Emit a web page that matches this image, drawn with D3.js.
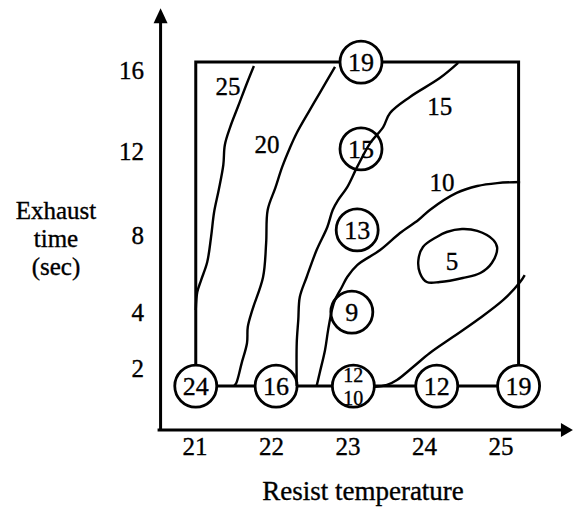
<!DOCTYPE html>
<html>
<head>
<meta charset="utf-8">
<script src="https://cdn.jsdelivr.net/npm/d3@7"></script>
<style>
  body { margin: 0; background: #fff; }
  svg text { font-family: "Liberation Serif", "Times New Roman", serif; fill: #000; stroke: #000; stroke-width: 0.35px; }
</style>
</head>
<body>
<div id="container"></div>
<script>
//-----------------------------DATA-----------------------------//
// x = resist temperature, y = exhaust time (sec)
var xTicks = [21, 22, 23, 24, 25];
var yTicks = [2, 4, 8, 12, 16];

// experiment box and axes extent
var boxTemp = [21.01, 25.23];
var boxTime = [1.44, 16.44];
var axisTemp = [20.55, 25.94];
var axisTime = [0, 19.1];

// measured points: [temperature, time, label]
var points = [
    [23.17, 16.44, "19"],
    [23.17, 12.15, "15"],
    [23.12, 8.29, "13"],
    [23.05, 4.05, "9"],
    [21.01, 1.44, "24"],
    [22.06, 1.44, "16"],
    [23.07, 1.44, "12|10"],
    [24.16, 1.44, "12"],
    [25.23, 1.44, "19"]
];

// contour lines
var contour25 = [[21.77,16.25],[21.68,15.41],[21.56,14.22],[21.46,13.23],[21.39,12.35],[21.37,11.38],
    [21.31,10.19],[21.25,9.14],[21.21,7.95],[21.16,6.65],[21.08,5.71],[21.03,5.09],[21.01,4.16]];
var contour20 = [[22.83,16.2],[22.63,14.91],[22.50,14.07],[22.33,12.94],[22.24,12.2],[22.14,11.29],
    [22.05,10.29],[21.95,9.24],[21.93,7.64],[21.89,5.87],[21.75,4.16],[21.69,3.5],[21.68,2.93],
    [21.61,2.21],[21.54,1.54],[21.51,1.44]];
var contour15 = [[24.44,16.4],[24.20,15.65],[23.81,14.72],[23.55,13.93],[23.46,13.23],[23.29,12.44],
    [23.12,11.29],[22.99,10.33],[22.87,9.71],[22.80,9.24],[22.73,8.43],[22.59,7.27],[22.46,5.87],
    [22.37,4.83],[22.35,3.75],[22.33,2.93],[22.33,1.44]];
var contour10a = [[25.25,10.57],[24.95,10.52],[24.69,10.38],[24.42,10.05],[24.07,9.24],[23.92,8.76],
    [23.68,8.14],[23.42,7.27],[23.12,6.49],[22.99,5.87],[22.92,5.35],[22.83,4.68],[22.79,4.16],
    [22.74,3.39],[22.70,2.68],[22.63,1.87],[22.59,1.44]];
var contour10b = [[25.31,5.97],[25.25,5.61],[25.03,4.68],[24.69,3.75],[24.37,3.14],[24.07,2.57],
    [23.85,2.07],[23.64,1.64],[23.51,1.48],[23.33,1.41]];
var contour5 = [[24.29,8.19],[24.49,8.33],[24.69,8.24],[24.90,7.79],[24.95,7.38],[24.88,6.60],
    [24.73,6.08],[24.50,5.82],[24.20,5.61],[24.03,5.61],[23.94,6.08],[23.92,6.75],[23.98,7.43],[24.16,7.95]];

// contour labels: [temperature, time, text]
var contourLabels = [
    [21.43, 15.21, "25"],
    [21.94, 12.35, "20"],
    [24.20, 14.22, "15"],
    [24.23, 10.52, "10"],
    [24.36, 6.65, "5"]
];

//-----------------------------SVG------------------------------//
var width = 574, height = 509;

var svg = d3.select("div#container").append("svg")
    .attr("width", width)
    .attr("height", height);

//----------------------------SCALES----------------------------//
var xScale = d3.scaleLinear().domain([21, 25]).range([195, 501]);
// the hand drawn axis is not evenly spaced, so a piecewise scale
var yScale = d3.scaleLinear()
    .domain([0, 2, 4, 8, 12, 16])
    .range([430, 369, 313, 236, 152, 71]);

//-----------------------------AXES-----------------------------//
var x0 = xScale(axisTemp[0]), y0 = yScale(axisTime[0]);
var xEnd = xScale(axisTemp[1]), yEnd = yScale(axisTime[1]);

svg.append("line")
    .attr("x1", x0 - 3).attr("y1", y0)
    .attr("x2", xEnd - 10).attr("y2", y0)
    .style("stroke", "#000").style("stroke-width", 3);
svg.append("path")
    .attr("d", "M" + xEnd + "," + y0 + "L" + (xEnd - 12) + "," + (y0 - 7) + "L" + (xEnd - 12) + "," + (y0 + 7) + "Z")
    .style("fill", "#000");

svg.append("line")
    .attr("x1", x0).attr("y1", y0 + 1)
    .attr("x2", x0).attr("y2", yEnd + 10)
    .style("stroke", "#000").style("stroke-width", 3);
svg.append("path")
    .attr("d", "M" + x0 + "," + yEnd + "L" + (x0 - 7) + "," + (yEnd + 15) + "L" + (x0 + 7) + "," + (yEnd + 15) + "Z")
    .style("fill", "#000");

svg.selectAll(".xtick")
    .data(xTicks)
    .enter()
    .append("text")
    .attr("class", "xtick")
    .attr("x", function(d) { return xScale(d); })
    .attr("y", y0 + 25)
    .attr("text-anchor", "middle")
    .style("font-size", "25px")
    .text(function(d) { return d; });

svg.selectAll(".ytick")
    .data(yTicks)
    .enter()
    .append("text")
    .attr("class", "ytick")
    .attr("x", 144)
    .attr("y", function(d) { return yScale(d) + 8; })
    .attr("text-anchor", "end")
    .style("font-size", "25px")
    .text(function(d) { return d; });

svg.append("text")
    .attr("x", 363)
    .attr("y", 500)
    .attr("text-anchor", "middle")
    .style("font-size", "27px")
    .text("Resist temperature");

// y title, one text per line
svg.selectAll(".ytitle")
    .data(["Exhaust", "time", "(sec)"])
    .enter()
    .append("text")
    .attr("class", "ytitle")
    .attr("x", 56)
    .attr("y", function(d, i) { return 219 + i * 28; })
    .attr("text-anchor", "middle")
    .style("font-size", "25px")
    .text(function(d) { return d; });

//------------------------------BOX-----------------------------//
svg.append("path")
    .attr("d", "M" + xScale(boxTemp[0]) + "," + yScale(boxTime[0])
        + "V" + yScale(boxTime[1])
        + "H" + xScale(boxTemp[1])
        + "V" + yScale(boxTime[0])
        + "H" + xScale(boxTemp[0]))
    .style("fill", "none")
    .style("stroke", "#000")
    .style("stroke-width", 3);

//---------------------------CONTOURS---------------------------//
var line = d3.line()
    .x(function(d) { return xScale(d[0]); })
    .y(function(d) { return yScale(d[1]); })
    .curve(d3.curveCatmullRom);

var closedLine = d3.line()
    .x(function(d) { return xScale(d[0]); })
    .y(function(d) { return yScale(d[1]); })
    .curve(d3.curveCatmullRomClosed);

//----------------------------CIRCLES---------------------------//
var circles = svg.selectAll(".pt")
    .data(points)
    .enter()
    .append("g")
    .attr("class", "pt")
    .attr("transform", function(d) { return "translate(" + xScale(d[0]) + "," + yScale(d[1]) + ")"; });

circles.append("circle")
    .attr("r", 21)
    .style("fill", "#fff")
    .style("stroke", "#000")
    .style("stroke-width", 2.8);

circles.each(function(d) {
    var g = d3.select(this);
    var parts = d[2].split("|");
    if (parts.length == 1) {
        g.append("text")
            .attr("y", 9)
            .attr("text-anchor", "middle")
            .style("font-size", "26px")
            .text(parts[0]);
    } else {
        g.append("text").attr("y", -4).attr("text-anchor", "middle")
            .style("font-size", "20px").text(parts[0]);
        g.append("text").attr("y", 19).attr("text-anchor", "middle")
            .style("font-size", "20px").text(parts[1]);
    }
});

[contour25, contour20, contour15, contour10a, contour10b].forEach(function(c) {
    svg.append("path")
        .attr("d", line(c))
        .style("fill", "none")
        .style("stroke", "#000")
        .style("stroke-width", 2.4);
});

svg.append("path")
    .attr("d", closedLine(contour5))
    .style("fill", "none")
    .style("stroke", "#000")
    .style("stroke-width", 2.4);

svg.selectAll(".clabel")
    .data(contourLabels)
    .enter()
    .append("text")
    .attr("class", "clabel")
    .attr("x", function(d) { return xScale(d[0]); })
    .attr("y", function(d) { return yScale(d[1]) + 8; })
    .attr("text-anchor", "middle")
    .style("font-size", "25px")
    .text(function(d) { return d[2]; });
</script>
</body>
</html>
